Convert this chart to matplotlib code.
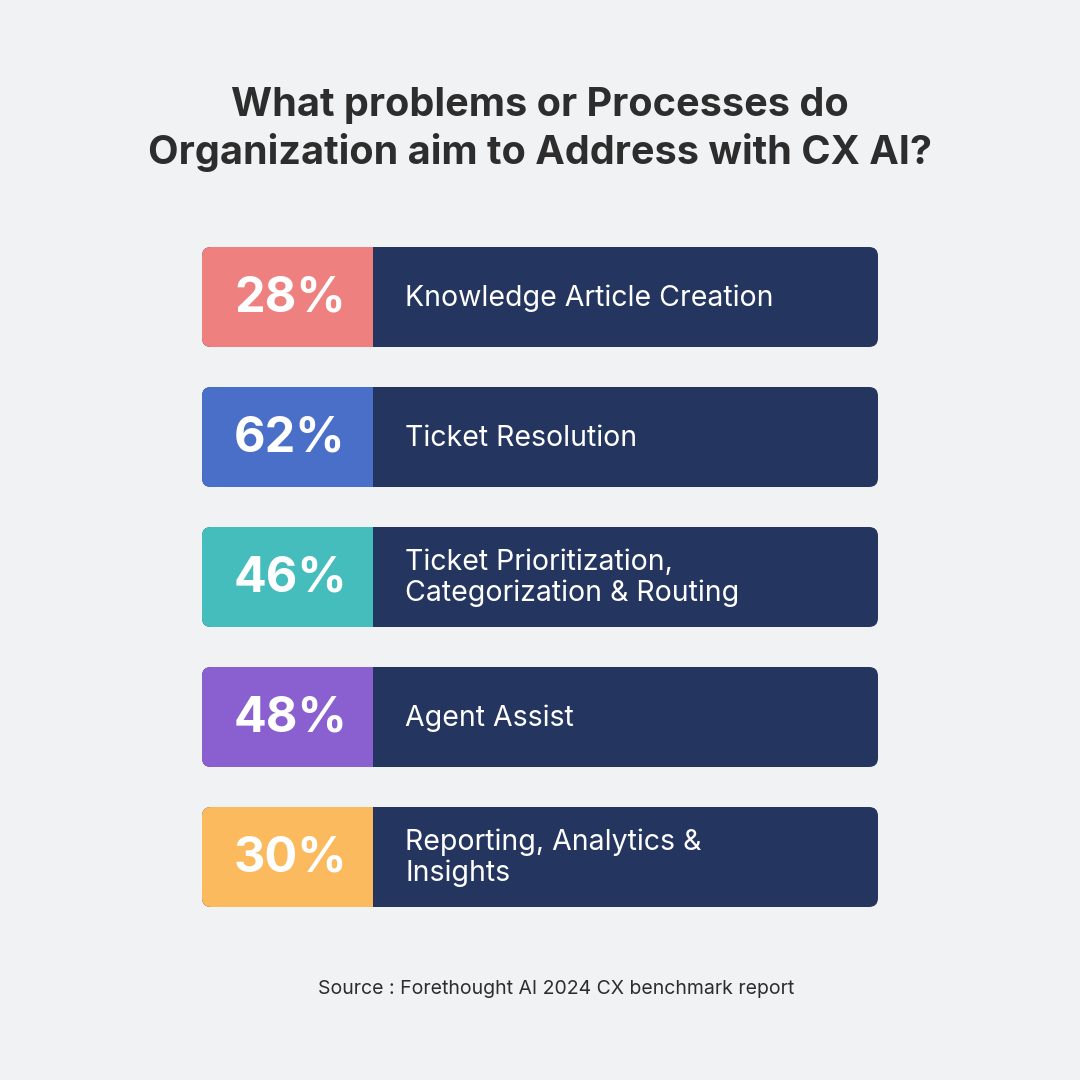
import matplotlib.pyplot as plt
from matplotlib.patches import FancyBboxPatch, Rectangle

# data
percents = [28, 62, 46, 48, 30]
labels = ["Knowledge Article Creation", "Ticket Resolution",
          "Ticket Prioritization,\nCategorization & Routing", "Agent Assist",
          "Reporting, Analytics &\nInsights"]
colors = ["#EF8080", "#4A6FC8", "#45BDBD", "#8A5FD0", "#FBBA5E"]

bg = "#F1F2F4"
navy = "#243560"
plt.rcParams["font.family"] = "Inter"

fig = plt.figure(figsize=(10.8, 10.8), dpi=100, facecolor=bg)
ax = fig.add_axes([0, 0, 1, 1])
ax.set_xlim(0, 1080)
ax.set_ylim(1080, 0)
ax.axis("off")

ax.text(540, 105, "What problems or Processes do", ha="center", va="center",
        fontsize=28.5, fontweight="bold", color="#2d2d2d")
ax.text(540, 153, "Organization aim to Address with CX AI?", ha="center", va="center",
        fontsize=28.5, fontweight="bold", color="#2d2d2d")

x0, xs, x1, h = 202, 373, 878, 100
for i, (p, lab, c) in enumerate(zip(percents, labels, colors)):
    y = 247 + i * 140
    ax.add_patch(FancyBboxPatch((x0, y), x1 - x0, h, boxstyle="round,pad=0,rounding_size=9",
                                fc=navy, ec="none"))
    ax.add_patch(FancyBboxPatch((x0, y), 200, h, boxstyle="round,pad=0,rounding_size=9",
                                fc=c, ec="none"))
    ax.add_patch(Rectangle((xs, y), 450, h, fc=navy, ec="none"))
    ax.text(290, y + h / 2 + 2, f"{p}%", ha="center", va="center",
            fontsize=35, fontweight="bold", color="white")
    ax.text(405, y + h / 2 + 1, lab, ha="left", va="center", fontsize=20.5,
            color="white", linespacing=1.15)

ax.text(556, 989, "Source : Forethought AI 2024 CX benchmark report", ha="center",
        va="center", fontsize=14, color="#2d2d2d")

fig.savefig("out.png", dpi=100, facecolor=bg)
